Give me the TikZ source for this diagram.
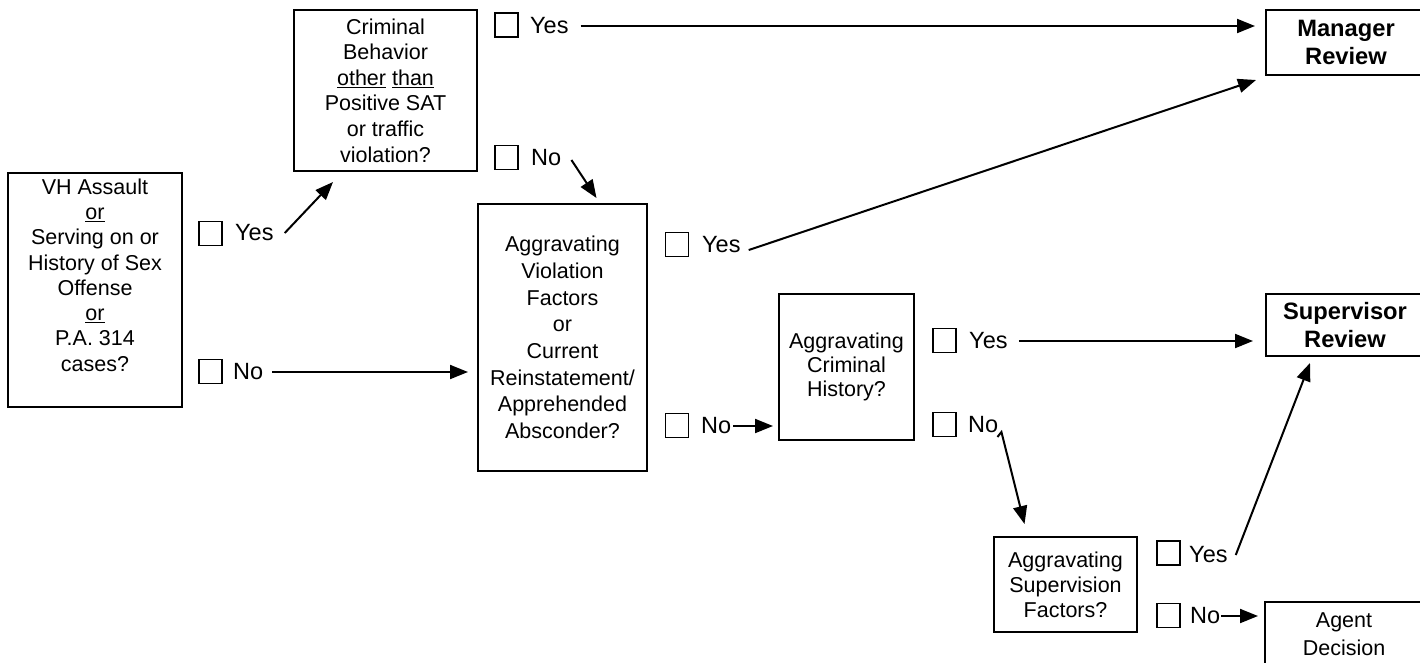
\documentclass[tikz,border=0pt]{standalone}
\usepackage{fontspec}
\setmainfont{Liberation Sans}
\usetikzlibrary{arrows.meta,calc}
\begin{document}
\begin{tikzpicture}[x=1pt,y=-1pt,
  box/.style={draw, line width=2pt, align=center, inner sep=0pt},
  txt/.style={align=center, inner sep=0pt},
  cbox/.style={draw, line width=1.2pt, minimum width=23pt, minimum height=24pt, inner sep=0pt},
  ans/.style={anchor=west, inner sep=0pt, font=\fontsize{23.5}{26}\selectfont},
  arr/.style={line width=2pt, -{Triangle[length=18pt,width=14pt]}},
  fa/.style={font=\fontsize{21.5}{#1}\selectfont},
  fb/.style={font=\fontsize{23.7}{27.5}\selectfont\bfseries},
]
\useasboundingbox (0,0) rectangle (1420,662);
\clip (0,0) rectangle (1420,662);

% boxes
\node[box, minimum width=174, minimum height=234] (b1) at (95,290) {};
\node[txt, fa=25.3] (b1t) at (95,275) {VH Assault\\\underline{or}\\Serving on or\\History of Sex\\Offense\\\underline{or}\\P.A. 314\\cases?};
\node[box, fa=25.6, minimum width=183, minimum height=161] (b2) at (385.5,90.5) {Criminal\\Behavior\\\underline{other} \underline{than}\\Positive SAT\\or traffic\\violation?};
\node[box, fa=26.7, minimum width=169, minimum height=267] (b3) at (562.5,337.5) {Aggravating\\Violation\\Factors\\or\\Current\\Reinstatement/\\Apprehended\\Absconder?};
\node[box, fa=24, minimum width=135, minimum height=146] (b4) at (846.5,367) {Aggravating\\Criminal\\History?};
\node[box, fa=25, minimum width=143, minimum height=95] (b5) at (1065.5,584.5) {Aggravating\\Supervision\\Factors?};
\node[box, fb, minimum width=160, minimum height=65] (mgr) at (1346,42.5) {Manager\\Review};
\node[box, fb, minimum width=158, minimum height=62] (sup) at (1345,325) {Supervisor\\Review};
\node[box, fa=28, minimum width=158, minimum height=64] (agent) at (1344,634) {Agent\\Decision};

% checkboxes
\node[cbox] (cA) at (210.5,233.5) {};
\node[cbox] (cB) at (210.5,371.5) {};
\node[cbox] (cC) at (506.5,25) {};
\node[cbox] (cD) at (506.5,157.5) {};
\node[cbox] (cE) at (677,244.5) {};
\node[cbox] (cF) at (677,425.5) {};
\node[cbox] (cG) at (944.5,340.5) {};
\node[cbox] (cH) at (944.5,424.5) {};
\node[cbox] (cI) at (1168.5,553) {};
\node[cbox] (cJ) at (1168.5,615.5) {};

% answers
\node[ans] (yA) at (235,233) {Yes};
\node[ans] (nB) at (233,372) {No};
\node[ans] (yC) at (530,26) {Yes};
\node[ans] (nD) at (531,158) {No};
\node[ans] (yE) at (702,245) {Yes};
\node[ans] (nF) at (701,426) {No};
\node[ans] (yG) at (969,341) {Yes};
\node[ans] (nH) at (968,425) {No};
\node[ans] (yI) at (1189,555) {Yes};
\node[ans] (nJ) at (1190,616) {No};

% connectors
\draw[arr] ($(yA.east)+(11,0)$) -- ($(b2.south west)+(40,10)$);
\draw[arr] ($(nB.east)+(9,0)$) -- ($(b3.west |- nB.east)+(-9,0)$);
\draw[arr] ($(yC.east)+(12,0)$) -- ($(mgr.west |- yC.east)+(-10,0)$);
\draw[arr] ($(nD.east)+(10,2)$) -- ($(b3.north)+(34,-5)$);
\draw[arr] ($(yE.east)+(8,5)$) -- ($(mgr.south west)+(-9,4)$);
\draw[arr] ($(nF.east)+(2,0)$) -- ($(b4.west |- nF.east)+(-5,0)$);
\draw[arr] ($(yG.east)+(11,0)$) -- ($(sup.west |- yG.east)+(-12,0)$);
\draw[arr] ($(nH.east)+(-1,12)$) -- ++(4,-5) -- ($(b5.north)+(-41,-12)$);
\draw[arr] ($(yI.east)+(8,0)$) -- ($(sup.south)+(-35,6)$);
\draw[arr] ($(nJ.east)+(1,0)$) -- ($(agent.west |- nJ.east)+(-6,0)$);
\end{tikzpicture}
\end{document}
